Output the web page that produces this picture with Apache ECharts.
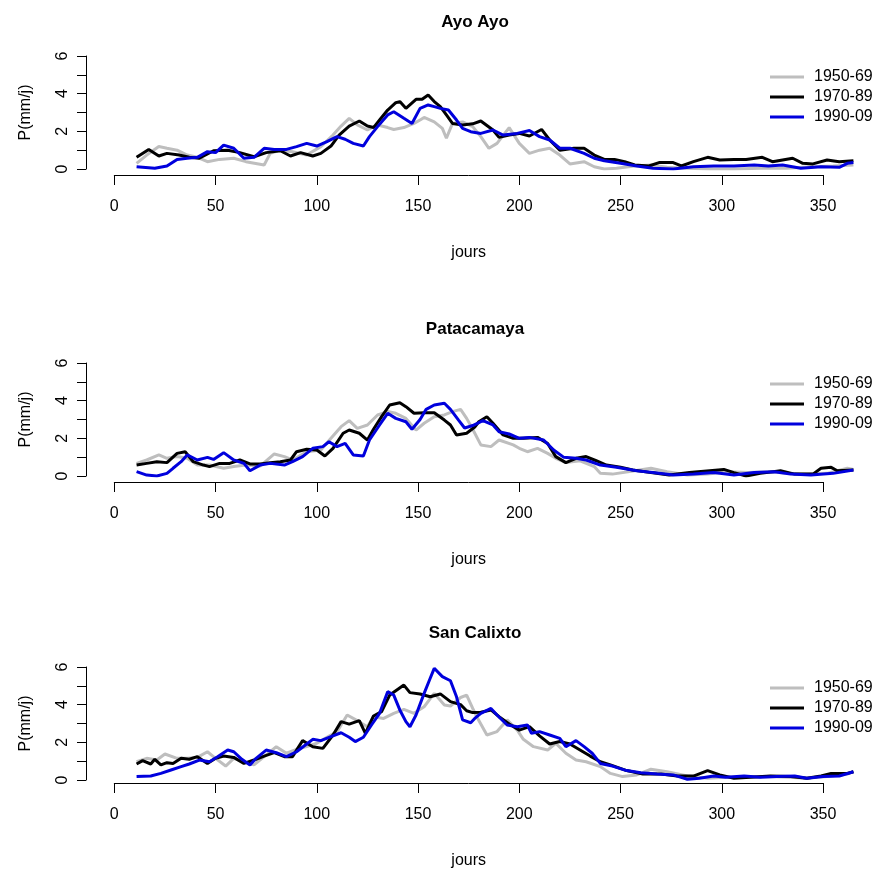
<!DOCTYPE html>
<html>
<head>
<meta charset="utf-8">
<script src="https://cdn.jsdelivr.net/npm/echarts@6/dist/echarts.min.js"></script>
<style>
  html, body { margin: 0; padding: 0; background: #fff; }
  #chart { width: 877px; height: 870px; }
</style>
</head>
<body>
<div id="chart"></div>
<script>
// stations and periods
const stations = ["Ayo Ayo", "Patacamaya", "San Calixto"];
const periods = ["1950-69", "1970-89", "1990-09"];
const colors = ["#bebebe", "#000000", "#0000dd"];

// [jour, P(mm/j)]
const ayo5069 = [[11,0.3],[16,0.74],[22,1.19],[26,1.1],[31,1.0],[36,0.74],[41,0.62],[46,0.39],[52,0.51],[59,0.57],[65,0.39],[74,0.21],[77,0.83],[82,1.0],[88,0.92],[95,0.74],[102,1.19],[108,1.8],[112,2.28],[116,2.69],[120,2.34],[125,2.07],[130,2.34],[135,2.2],[138,2.1],[143,2.2],[148,2.42],[151,2.6],[153,2.74],[158,2.5],[162,2.16],[164,1.63],[167,2.42],[172,2.5],[177,2.25],[181,1.72],[185,1.1],[189,1.36],[195,2.2],[200,1.36],[205,0.83],[210,1.0],[215,1.1],[220,0.74],[225,0.27],[232,0.39],[237,0.12],[242,0.0],[248,0.04],[257,0.16],[265,0.21],[273,0.09],[283,0.04],[294,0.0],[306,0.0],[319,0.04],[332,0.04],[345,0.12],[355,0.16],[365,0.21]];
const ayo7089 = [[11,0.62],[17,1.04],[22,0.69],[26,0.83],[32,0.74],[37,0.62],[42,0.57],[49,0.97],[56,1.0],[62,0.87],[69,0.65],[75,0.87],[82,0.97],[87,0.69],[92,0.87],[98,0.69],[102,0.83],[107,1.22],[111,1.8],[116,2.28],[121,2.55],[125,2.28],[128,2.2],[131,2.6],[135,3.13],[139,3.52],[141,3.58],[144,3.22],[149,3.7],[152,3.7],[155,3.93],[158,3.58],[161,3.31],[164,2.87],[167,2.42],[172,2.34],[177,2.4],[181,2.55],[187,2.07],[190,1.68],[195,1.8],[200,1.89],[205,1.75],[211,2.1],[215,1.54],[220,1.0],[227,1.1],[232,1.1],[237,0.74],[242,0.51],[247,0.51],[252,0.39],[257,0.21],[264,0.16],[269,0.34],[276,0.34],[280,0.16],[286,0.39],[293,0.62],[299,0.48],[306,0.51],[312,0.51],[320,0.62],[325,0.39],[335,0.57],[340,0.3],[345,0.27],[352,0.48],[358,0.39],[365,0.44]];
const ayo9009 = [[11,0.12],[20,0.04],[26,0.16],[31,0.51],[36,0.57],[41,0.62],[46,0.92],[50,0.87],[54,1.27],[59,1.1],[64,0.57],[69,0.62],[74,1.1],[79,1.04],[85,1.04],[90,1.19],[95,1.36],[100,1.22],[105,1.45],[110,1.72],[114,1.58],[118,1.36],[123,1.22],[126,1.72],[130,2.25],[135,2.87],[138,3.04],[143,2.69],[147,2.42],[151,3.22],[155,3.4],[158,3.31],[161,3.22],[165,3.13],[169,2.6],[172,2.16],[176,1.98],[181,1.89],[187,2.07],[192,1.8],[199,1.89],[205,2.04],[210,1.72],[215,1.54],[220,1.1],[225,1.1],[232,0.83],[237,0.57],[242,0.44],[250,0.3],[258,0.16],[266,0.04],[276,0.0],[286,0.12],[296,0.16],[306,0.16],[316,0.21],[323,0.16],[330,0.21],[339,0.04],[349,0.12],[358,0.09],[362,0.3],[365,0.34]];

const pat5069 = [[11,0.67],[16,0.85],[22,1.12],[26,0.94],[31,1.03],[36,0.94],[41,0.58],[47,0.58],[54,0.41],[59,0.5],[65,0.58],[72,0.53],[79,1.17],[84,1.03],[88,0.85],[95,1.29],[102,1.38],[107,2.0],[112,2.62],[116,2.94],[120,2.53],[125,2.71],[130,3.24],[135,3.42],[139,3.33],[144,3.06],[149,2.44],[153,2.8],[158,3.15],[163,3.24],[167,3.42],[171,3.54],[174,3.06],[177,2.48],[181,1.65],[186,1.56],[190,1.91],[197,1.65],[200,1.47],[204,1.29],[209,1.47],[214,1.2],[218,0.94],[223,0.71],[230,0.81],[237,0.5],[240,0.14],[246,0.1],[257,0.28],[265,0.41],[273,0.23],[283,0.05],[293,0.1],[303,0.23],[313,0.18],[323,0.23],[333,0.14],[342,0.1],[352,0.14],[362,0.41],[365,0.35]];
const pat7089 = [[11,0.58],[16,0.67],[21,0.76],[26,0.71],[31,1.2],[35,1.29],[39,0.76],[44,0.58],[47,0.5],[52,0.67],[57,0.67],[62,0.85],[67,0.64],[72,0.64],[77,0.71],[82,0.76],[87,0.85],[90,1.29],[95,1.42],[100,1.38],[104,1.06],[108,1.47],[113,2.27],[116,2.44],[121,2.27],[125,1.91],[128,2.48],[132,3.15],[136,3.77],[141,3.89],[144,3.68],[148,3.33],[153,3.36],[158,3.36],[163,2.97],[166,2.71],[169,2.18],[174,2.27],[178,2.6],[180,2.88],[184,3.15],[187,2.8],[192,2.18],[197,2.0],[202,2.0],[209,2.05],[214,1.73],[218,1.03],[223,0.71],[228,0.94],[233,1.03],[238,0.81],[243,0.58],[250,0.46],[256,0.32],[265,0.18],[274,0.05],[284,0.18],[294,0.28],[301,0.35],[306,0.18],[312,0.0],[319,0.14],[329,0.28],[336,0.1],[345,0.1],[349,0.41],[354,0.46],[357,0.28],[365,0.32]];
const pat9009 = [[11,0.23],[16,0.05],[21,0.0],[26,0.14],[29,0.41],[33,0.76],[36,1.12],[41,0.85],[46,0.99],[49,0.88],[54,1.24],[59,0.85],[64,0.67],[67,0.28],[72,0.58],[77,0.67],[84,0.58],[88,0.76],[93,1.03],[98,1.47],[103,1.56],[106,1.82],[110,1.56],[114,1.73],[118,1.12],[123,1.06],[126,1.91],[131,2.71],[135,3.33],[139,3.06],[144,2.88],[147,2.48],[151,3.0],[154,3.54],[158,3.77],[163,3.86],[166,3.54],[170,2.97],[173,2.55],[177,2.68],[182,2.94],[187,2.71],[190,2.35],[195,2.23],[200,2.0],[205,2.05],[212,1.91],[217,1.38],[222,0.99],[228,0.94],[233,0.85],[240,0.58],[248,0.46],[258,0.28],[266,0.18],[276,0.05],[286,0.1],[296,0.18],[306,0.05],[316,0.18],[326,0.23],[334,0.1],[344,0.05],[355,0.14],[365,0.32]];

const san5069 = [[11,0.97],[16,1.15],[21,1.06],[25,1.38],[31,1.15],[36,1.15],[41,1.2],[46,1.5],[50,1.15],[55,0.74],[59,1.15],[64,0.97],[69,0.8],[74,1.24],[80,1.77],[85,1.42],[90,1.63],[95,1.77],[100,1.95],[105,2.27],[110,2.57],[115,3.45],[120,3.15],[125,2.83],[128,3.36],[133,3.27],[138,3.54],[143,3.75],[148,3.54],[153,3.89],[158,4.6],[163,3.98],[166,3.93],[171,4.38],[174,4.51],[177,3.8],[179,3.36],[184,2.39],[189,2.57],[194,3.19],[199,2.65],[202,2.16],[207,1.77],[214,1.59],[218,1.95],[223,1.42],[228,1.06],[233,0.97],[240,0.71],[245,0.35],[251,0.18],[258,0.27],[265,0.57],[273,0.44],[283,0.21],[293,0.09],[302,0.14],[313,0.14],[323,0.18],[333,0.14],[342,0.09],[352,0.18],[362,0.32],[365,0.44]];
const san7089 = [[11,0.85],[14,1.03],[18,0.85],[20,1.1],[23,0.8],[26,0.92],[29,0.88],[33,1.15],[37,1.1],[41,1.24],[46,0.88],[50,1.15],[54,1.27],[59,1.2],[64,0.88],[69,1.06],[74,1.27],[79,1.45],[84,1.24],[88,1.24],[93,2.09],[98,1.77],[103,1.68],[108,2.39],[112,3.1],[116,2.97],[121,3.15],[124,2.48],[128,3.4],[132,3.63],[136,4.51],[139,4.74],[143,5.04],[146,4.64],[151,4.57],[156,4.42],[161,4.57],[166,4.16],[171,4.0],[174,3.68],[177,3.58],[181,3.6],[186,3.72],[190,3.36],[195,2.97],[200,2.65],[205,2.83],[210,2.34],[215,1.91],[220,2.04],[225,1.91],[230,1.59],[235,1.27],[240,0.97],[245,0.8],[253,0.5],[261,0.32],[270,0.32],[278,0.21],[286,0.21],[293,0.5],[299,0.27],[306,0.09],[314,0.14],[324,0.21],[334,0.18],[342,0.09],[349,0.21],[354,0.35],[362,0.35],[365,0.44]];
const san9009 = [[11,0.18],[18,0.21],[23,0.35],[28,0.53],[33,0.71],[37,0.85],[42,1.06],[47,0.97],[51,1.24],[56,1.59],[59,1.5],[63,1.1],[67,0.8],[70,1.15],[75,1.59],[80,1.45],[85,1.24],[90,1.5],[95,1.91],[98,2.16],[102,2.09],[107,2.3],[112,2.51],[116,2.27],[119,2.04],[123,2.27],[127,2.92],[131,3.54],[135,4.69],[138,4.51],[141,3.72],[144,3.1],[146,2.83],[149,3.45],[153,4.6],[156,5.4],[158,5.93],[162,5.49],[166,5.27],[169,4.42],[172,3.19],[176,3.04],[178,3.27],[181,3.54],[186,3.8],[189,3.45],[194,2.92],[199,2.83],[204,2.92],[206,2.48],[210,2.57],[215,2.39],[220,2.21],[223,1.77],[228,2.09],[232,1.77],[236,1.42],[240,0.88],[246,0.74],[253,0.5],[260,0.39],[268,0.32],[276,0.27],[283,0.04],[289,0.09],[296,0.21],[302,0.14],[311,0.21],[319,0.14],[327,0.18],[336,0.21],[342,0.09],[350,0.18],[358,0.21],[365,0.44]];

const panelData = [
  [ayo5069, ayo7089, ayo9009],
  [pat5069, pat7089, pat9009],
  [san5069, san7089, san9009]
];

// layout (pixels)
const plotTop = [56, 363, 667];   // y = 6
const plotH = 113;                // 0..6
const axisGap = 6;                // x axis sits below y = 0
const left = 114.3;
const yAxisLeft = 86;             // y axis sits left of the data
const pxDay = 2.025;
const font = "Liberation Sans, Arial, sans-serif";

var myChart = echarts.init(document.getElementById("chart"));

var grid = [], xAxis = [], yAxis = [], series = [], title = [], legend = [];

stations.forEach(function (name, i) {
  var top = plotTop[i];
  var g = 3 * i;
  // data grid
  grid.push({ left: left, top: top, width: 365 * pxDay, height: plotH });
  // grid for the visible x axis (0..350 only, like R)
  grid.push({ left: left, top: top + plotH + axisGap - 20, width: 350 * pxDay, height: 20 });
  // grid for the visible y axis
  grid.push({ left: yAxisLeft, top: top, width: 10, height: plotH });

  xAxis.push({ gridIndex: g, type: "value", min: 0, max: 365, show: false });
  xAxis.push({
    gridIndex: g + 1, type: "value", min: 0, max: 350, interval: 50,
    position: "bottom",
    axisLine: { lineStyle: { color: "#000", width: 1 } },
    axisTick: { length: 10, lineStyle: { color: "#000" } },
    axisLabel: { color: "#000", fontSize: 16, fontFamily: font, margin: 24 },
    splitLine: { show: false },
    name: "jours", nameLocation: "middle", nameGap: 70,
    nameTextStyle: { color: "#000", fontSize: 16, fontFamily: font }
  });
  xAxis.push({ gridIndex: g + 2, type: "value", min: 0, max: 1, show: false });

  yAxis.push({ gridIndex: g, type: "value", min: 0, max: 6, show: false });
  yAxis.push({ gridIndex: g + 1, type: "value", min: 0, max: 1, show: false });
  yAxis.push({
    gridIndex: g + 2, type: "value", min: 0, max: 6, interval: 1,
    position: "left",
    axisLine: { show: true, lineStyle: { color: "#000", width: 1 } },
    axisTick: { show: true, length: 9, lineStyle: { color: "#000" } },
    axisLabel: {
      color: "#000", fontSize: 16, fontFamily: font, rotate: 90, margin: 15,
      formatter: function (v) { return v % 2 === 0 ? String(v) : ""; }
    },
    splitLine: { show: false },
    name: "P(mm/j)", nameLocation: "middle", nameRotate: 90, nameGap: 52,
    nameTextStyle: { color: "#000", fontSize: 16, fontFamily: font }
  });

  title.push({
    text: name, left: 470, top: top - 47, textAlign: "center",
    textStyle: { fontSize: 17, fontWeight: "bold", color: "#000", fontFamily: font }
  });

  legend.push({
    orient: "vertical", left: 765, top: top + 8,
    icon: "rect", itemWidth: 34, itemHeight: 3, itemGap: 4,
    data: periods,
    textStyle: { color: "#000", fontSize: 16, lineHeight: 16, fontFamily: font, padding: [0, 0, 0, 5] }
  });

  periods.forEach(function (p, k) {
    series.push({
      name: p, type: "line",
      xAxisIndex: g, yAxisIndex: g,
      data: panelData[i][k],
      showSymbol: false, symbol: "none",
      lineStyle: { width: 3, color: colors[k] },
      itemStyle: { color: colors[k] },
      z: 2 + k
    });
  });
});

myChart.setOption({
  animation: false,
  backgroundColor: "#fff",
  title: title,
  legend: legend,
  grid: grid,
  xAxis: xAxis,
  yAxis: yAxis,
  series: series
});
</script>
</body>
</html>
